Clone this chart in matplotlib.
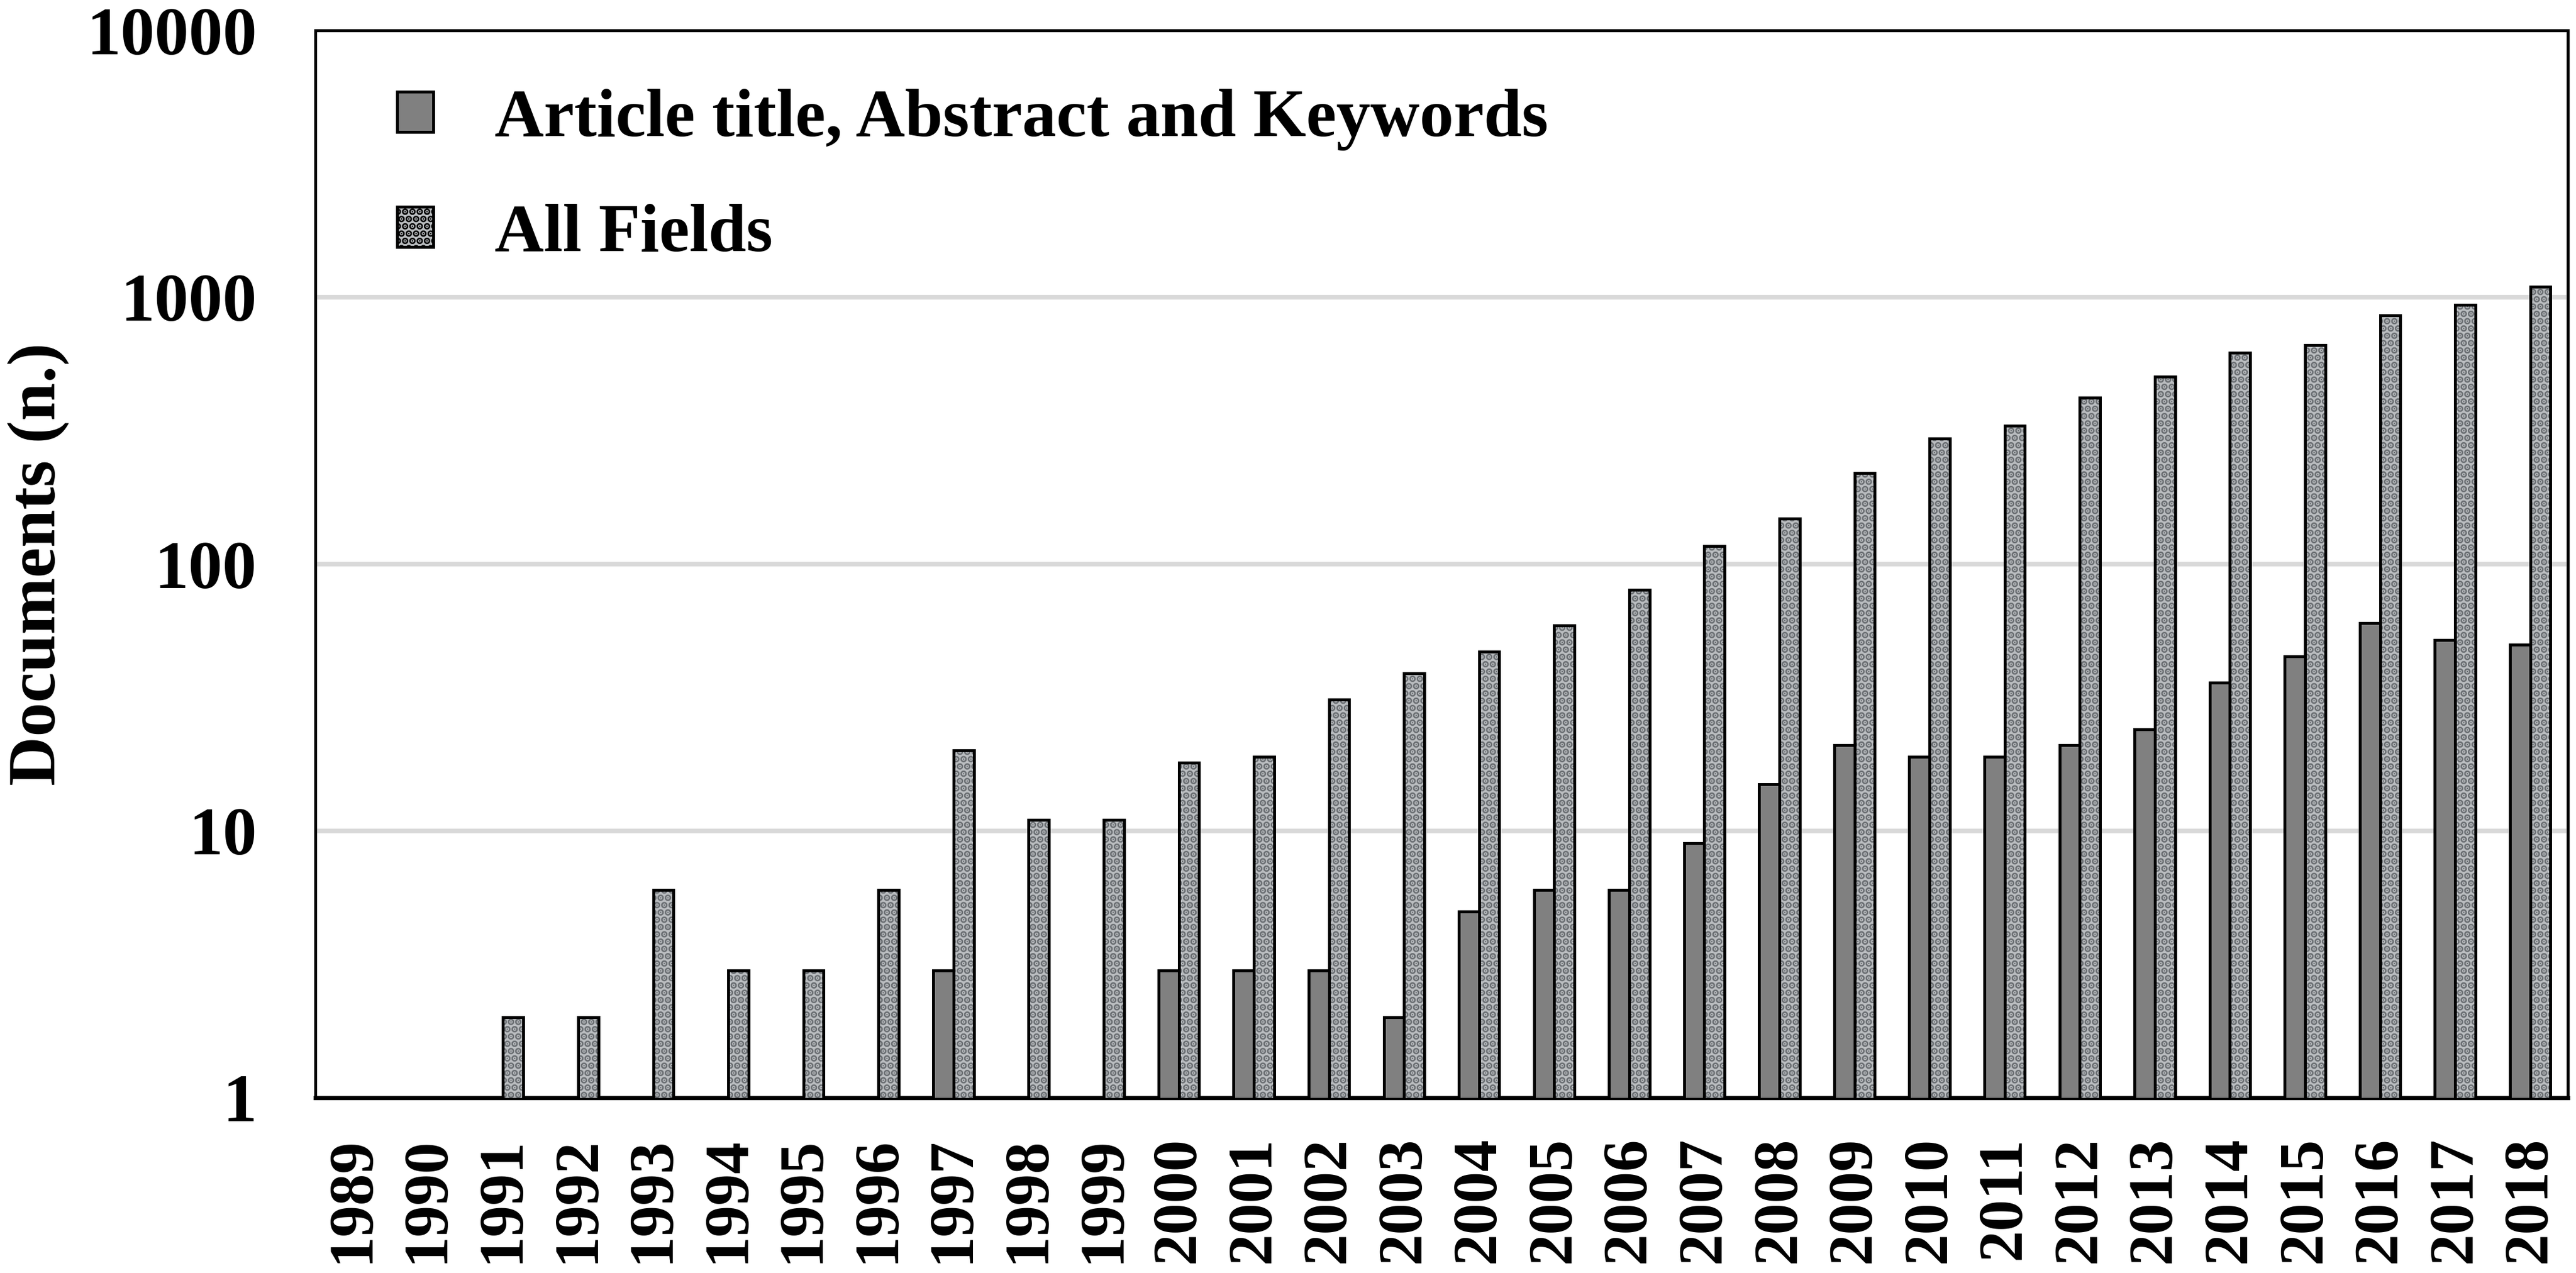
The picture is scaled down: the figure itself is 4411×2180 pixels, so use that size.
import numpy as np
import matplotlib
matplotlib.use("Agg")
import matplotlib.pyplot as plt
from matplotlib.patches import Patch

# %% data (documents per year, log axis)
years = [str(y) for y in range(1989, 2019)]
title_abs_kw = [np.nan, np.nan, np.nan, np.nan, np.nan, np.nan, np.nan, np.nan, 3, np.nan,
                np.nan, 3, 3, 3, 2, 5, 6, 6, 9, 15,
                21, 19, 19, 21, 24, 36, 45, 60, 52, 50]
all_fields = [np.nan, np.nan, 2, 2, 6, 3, 3, 6, 20, 11,
              11, 18, 19, 31, 39, 47, 59, 80, 117, 148,
              220, 295, 330, 420, 505, 620, 660, 855, 935, 1095]
y_ticks = [1, 10, 100, 1000, 10000]
labels = ["Article title, Abstract and Keywords", "All Fields"]

# %% style
plt.rcParams['font.family'] = ['Liberation Serif', 'DejaVu Serif']
plt.rcParams['font.weight'] = 'bold'
plt.rcParams['hatch.linewidth'] = 2.0
fs = 28
dark = '#808080'
light = '#babdc0'

fig = plt.figure(figsize=(4411 / 300, 2180 / 300), dpi=300)
ax = fig.add_axes([540 / 4411, 1 - 1880 / 2180, (4397 - 540) / 4411, (1880 - 52) / 2180])

x = np.arange(len(years))
w = 0.27

ax.bar(x - w / 2, title_abs_kw, w, color=dark, edgecolor='black', linewidth=1.2, zorder=3)
# textured grey fill, then outline on top
ax.bar(x + w / 2, all_fields, w, color=light, edgecolor='#6a6e72', hatch='....',
       linewidth=0, zorder=3)
ax.bar(x + w / 2, all_fields, w, fill=False, edgecolor='black', linewidth=1.2, zorder=4)

ax.set_yscale('log')
ax.set_ylim(1, 10000)
ax.set_xlim(-0.5, len(years) - 0.5)
ax.set_yticks(y_ticks)
ax.set_yticklabels([str(t) for t in y_ticks])
ax.minorticks_off()
ax.set_xticks(x)
ax.set_xticklabels(years, rotation=90)
ax.tick_params(axis='y', length=0, pad=24, labelsize=fs)
ax.tick_params(axis='x', length=0, pad=16, labelsize=26)

ax.grid(axis='y', color='#d9d9d9', linewidth=1.9, zorder=0)
ax.set_axisbelow(True)
for side in ['left', 'top', 'right']:
    ax.spines[side].set_linewidth(1.2)
ax.spines['bottom'].set_linewidth(1.7)

ax.set_ylabel('Documents (n.)', fontsize=fs, fontweight='bold')
ax.yaxis.set_label_coords((118 - 540) / 3857, 0.5)

# legend (no frame), second handle textured like its bars
h1 = Patch(facecolor=dark, edgecolor='black', linewidth=1.2)
h2 = Patch(facecolor=light, edgecolor='black', linewidth=1.2, hatch='....')
ax.legend([h1, h2], labels, loc='upper left', bbox_to_anchor=(140 / 3857, 1 - 100 / 1828),
          frameon=False, fontsize=fs, handlelength=0.53, handleheight=0.53,
          handletextpad=0.9, labelspacing=0.78, borderpad=0, borderaxespad=0)

fig.savefig('out.png', dpi=300)
